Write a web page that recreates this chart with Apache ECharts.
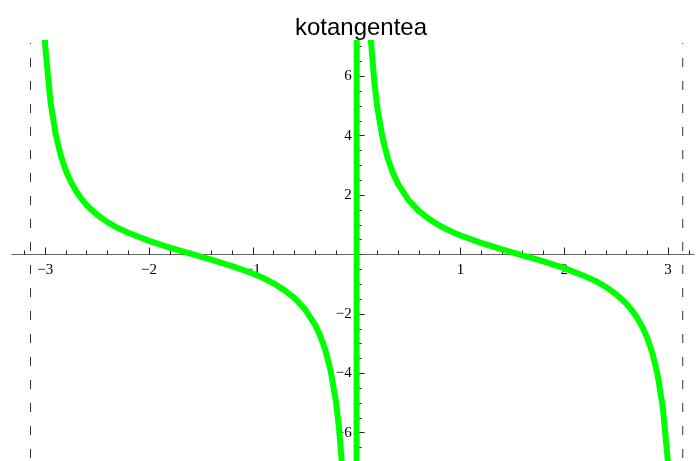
<!DOCTYPE html>
<html>
    <head>
        <meta charset="utf-8">
        <script src="https://cdn.jsdelivr.net/npm/echarts@6/dist/echarts.min.js"></script>
    </head>
    <body style="margin:0">
        <style>
            html, body, #main {
                width: 697px;
                height: 461px;
                margin: 0;
                background: #fff;
            }
        </style>
        <div id="main"></div>
        <script>
            // cot(x) branches, values
            var leftX = [-3.02, -3.0, -2.95, -2.9, -2.85, -2.8, -2.75, -2.7, -2.65, -2.6, -2.5, -2.4, -2.3, -2.2, -2.0, -1.8, -1.6, -1.4, -1.2, -1.0, -0.9, -0.8, -0.7, -0.6, -0.5, -0.4, -0.35, -0.3, -0.25, -0.2, -0.17, -0.14, -0.12];
            var leftY = [8.18, 7.02, 5.16, 4.06, 3.33, 2.81, 2.42, 2.12, 1.87, 1.66, 1.34, 1.09, 0.89, 0.73, 0.46, 0.23, 0.03, -0.17, -0.39, -0.64, -0.79, -0.97, -1.19, -1.46, -1.83, -2.37, -2.74, -3.23, -3.92, -4.93, -5.83, -7.10, -8.29];
            // the joining stroke across x = 0
            var jumpX = [-0.01, 0.01];
            var jumpY = [-100, 100];
            var rightX = [0.12, 0.14, 0.17, 0.2, 0.25, 0.3, 0.35, 0.4, 0.5, 0.6, 0.7, 0.8, 0.9, 1.0, 1.2, 1.4, 1.6, 1.8, 2.0, 2.2, 2.3, 2.4, 2.5, 2.6, 2.65, 2.7, 2.75, 2.8, 2.85, 2.9, 2.95, 3.0, 3.02];
            var rightY = [8.29, 7.10, 5.83, 4.93, 3.92, 3.23, 2.74, 2.37, 1.83, 1.46, 1.19, 0.97, 0.79, 0.64, 0.39, 0.17, -0.03, -0.23, -0.46, -0.73, -0.89, -1.09, -1.34, -1.66, -1.87, -2.12, -2.42, -2.81, -3.33, -4.06, -5.16, -7.02, -8.18];

            var asymptoteX = [-3.1416, 3.1416];

            var xMajorTicks = [-3, -2, -1, 1, 2, 3];
            var yMajorTicks = [-6, -4, -2, 2, 4, 6];
            var xMinorTicks = [];
            for (var i = -16; i <= 16; i++) xMinorTicks.push(i / 5);
            var yMinorTicks = [];
            for (var j = -14; j <= 14; j++) yMinorTicks.push(j / 2);

            var xRange = [-3.32, 3.25];
            var yRange = [-7.12, 7.12];

            // plot box in pixels
            var W = 697, H = 461;
            var box = { left: 12, right: 3, top: 43, bottom: -5 };
            var boxW = W - box.left - box.right;
            var boxH = H - box.top - box.bottom;
            // distance from each box edge to the zero lines (ECharts 6 keeps
            // labels at the edge with onZero, so the axes are shifted by offset)
            var zeroFromLeft = boxW * (0 - xRange[0]) / (xRange[1] - xRange[0]);
            var zeroFromRight = boxW - zeroFromLeft;
            var zeroFromTop = boxH * (yRange[1] - 0) / (yRange[1] - yRange[0]);
            var zeroFromBottom = boxH - zeroFromTop;

            function pairs(xs, ys) {
                return xs.map(function (x, k) { return [x, ys[k]]; });
            }
            var curve = pairs(leftX, leftY).concat(pairs(jumpX, jumpY), pairs(rightX, rightY));

            function minus(v) {
                return String(v).replace('-', '\u2212');
            }

            var labelFont = {
                fontFamily: 'Liberation Serif',
                fontSize: 15,
                color: '#000'
            };

            var chart = echarts.init(document.getElementById('main'));

            chart.setOption({
                animation: false,
                title: {
                    text: 'kotangentea',
                    left: 356,
                    textAlign: 'center',
                    top: 11,
                    textStyle: {
                        fontFamily: 'Liberation Sans',
                        fontWeight: 'normal',
                        fontSize: 24,
                        color: '#000'
                    }
                },
                grid: {
                    left: box.left,
                    right: box.right,
                    top: box.top,
                    bottom: box.bottom,
                    outerBoundsMode: 'none'
                },
                xAxis: [{
                    type: 'value',
                    min: xRange[0],
                    max: xRange[1],
                    position: 'bottom',
                    offset: -zeroFromBottom,
                    axisLine: {
                        onZero: false,
                        lineStyle: { color: '#666', width: 1 }
                    },
                    axisTick: {
                        inside: true,
                        length: 7,
                        customValues: xMajorTicks,
                        lineStyle: { color: '#222' }
                    },
                    axisLabel: Object.assign({
                        customValues: xMajorTicks,
                        margin: 8,
                        formatter: minus
                    }, labelFont),
                    splitLine: { show: false }
                }, {
                    type: 'value',
                    min: xRange[0],
                    max: xRange[1],
                    position: 'top',
                    offset: -zeroFromTop,
                    axisLine: { show: false, onZero: false },
                    axisTick: {
                        show: true,
                        inside: false,
                        length: 4,
                        customValues: xMinorTicks,
                        lineStyle: { color: '#222' }
                    },
                    axisLabel: { show: false },
                    splitLine: { show: false }
                }],
                yAxis: [{
                    type: 'value',
                    min: yRange[0],
                    max: yRange[1],
                    position: 'left',
                    offset: -zeroFromLeft,
                    axisLine: {
                        onZero: false,
                        lineStyle: { color: '#666', width: 1 }
                    },
                    axisTick: {
                        inside: true,
                        length: 8,
                        customValues: yMajorTicks,
                        lineStyle: { color: '#222' }
                    },
                    axisLabel: Object.assign({
                        customValues: yMajorTicks,
                        margin: 5,
                        formatter: minus
                    }, labelFont),
                    splitLine: { show: false }
                }, {
                    type: 'value',
                    min: yRange[0],
                    max: yRange[1],
                    position: 'right',
                    offset: -zeroFromRight,
                    axisLine: { show: false, onZero: false },
                    axisTick: {
                        show: true,
                        inside: false,
                        length: 5,
                        customValues: yMinorTicks,
                        lineStyle: { color: '#222' }
                    },
                    axisLabel: { show: false },
                    splitLine: { show: false }
                }],
                series: asymptoteX.map(function (ax) {
                    return {
                        type: 'line',
                        silent: true,
                        symbol: 'none',
                        data: [[ax, yRange[1]], [ax, yRange[0]]],
                        lineStyle: {
                            color: '#333',
                            width: 1,
                            type: [9, 14],
                            dashOffset: 8
                        },
                        z: 1
                    };
                }).concat([{
                    name: 'cot',
                    type: 'line',
                    symbol: 'none',
                    clip: true,
                    data: curve,
                    lineStyle: {
                        color: '#00ff00',
                        width: 6,
                        join: 'round',
                        cap: 'butt'
                    },
                    z: 3
                }])
            });
        </script>
    </body>
</html>
